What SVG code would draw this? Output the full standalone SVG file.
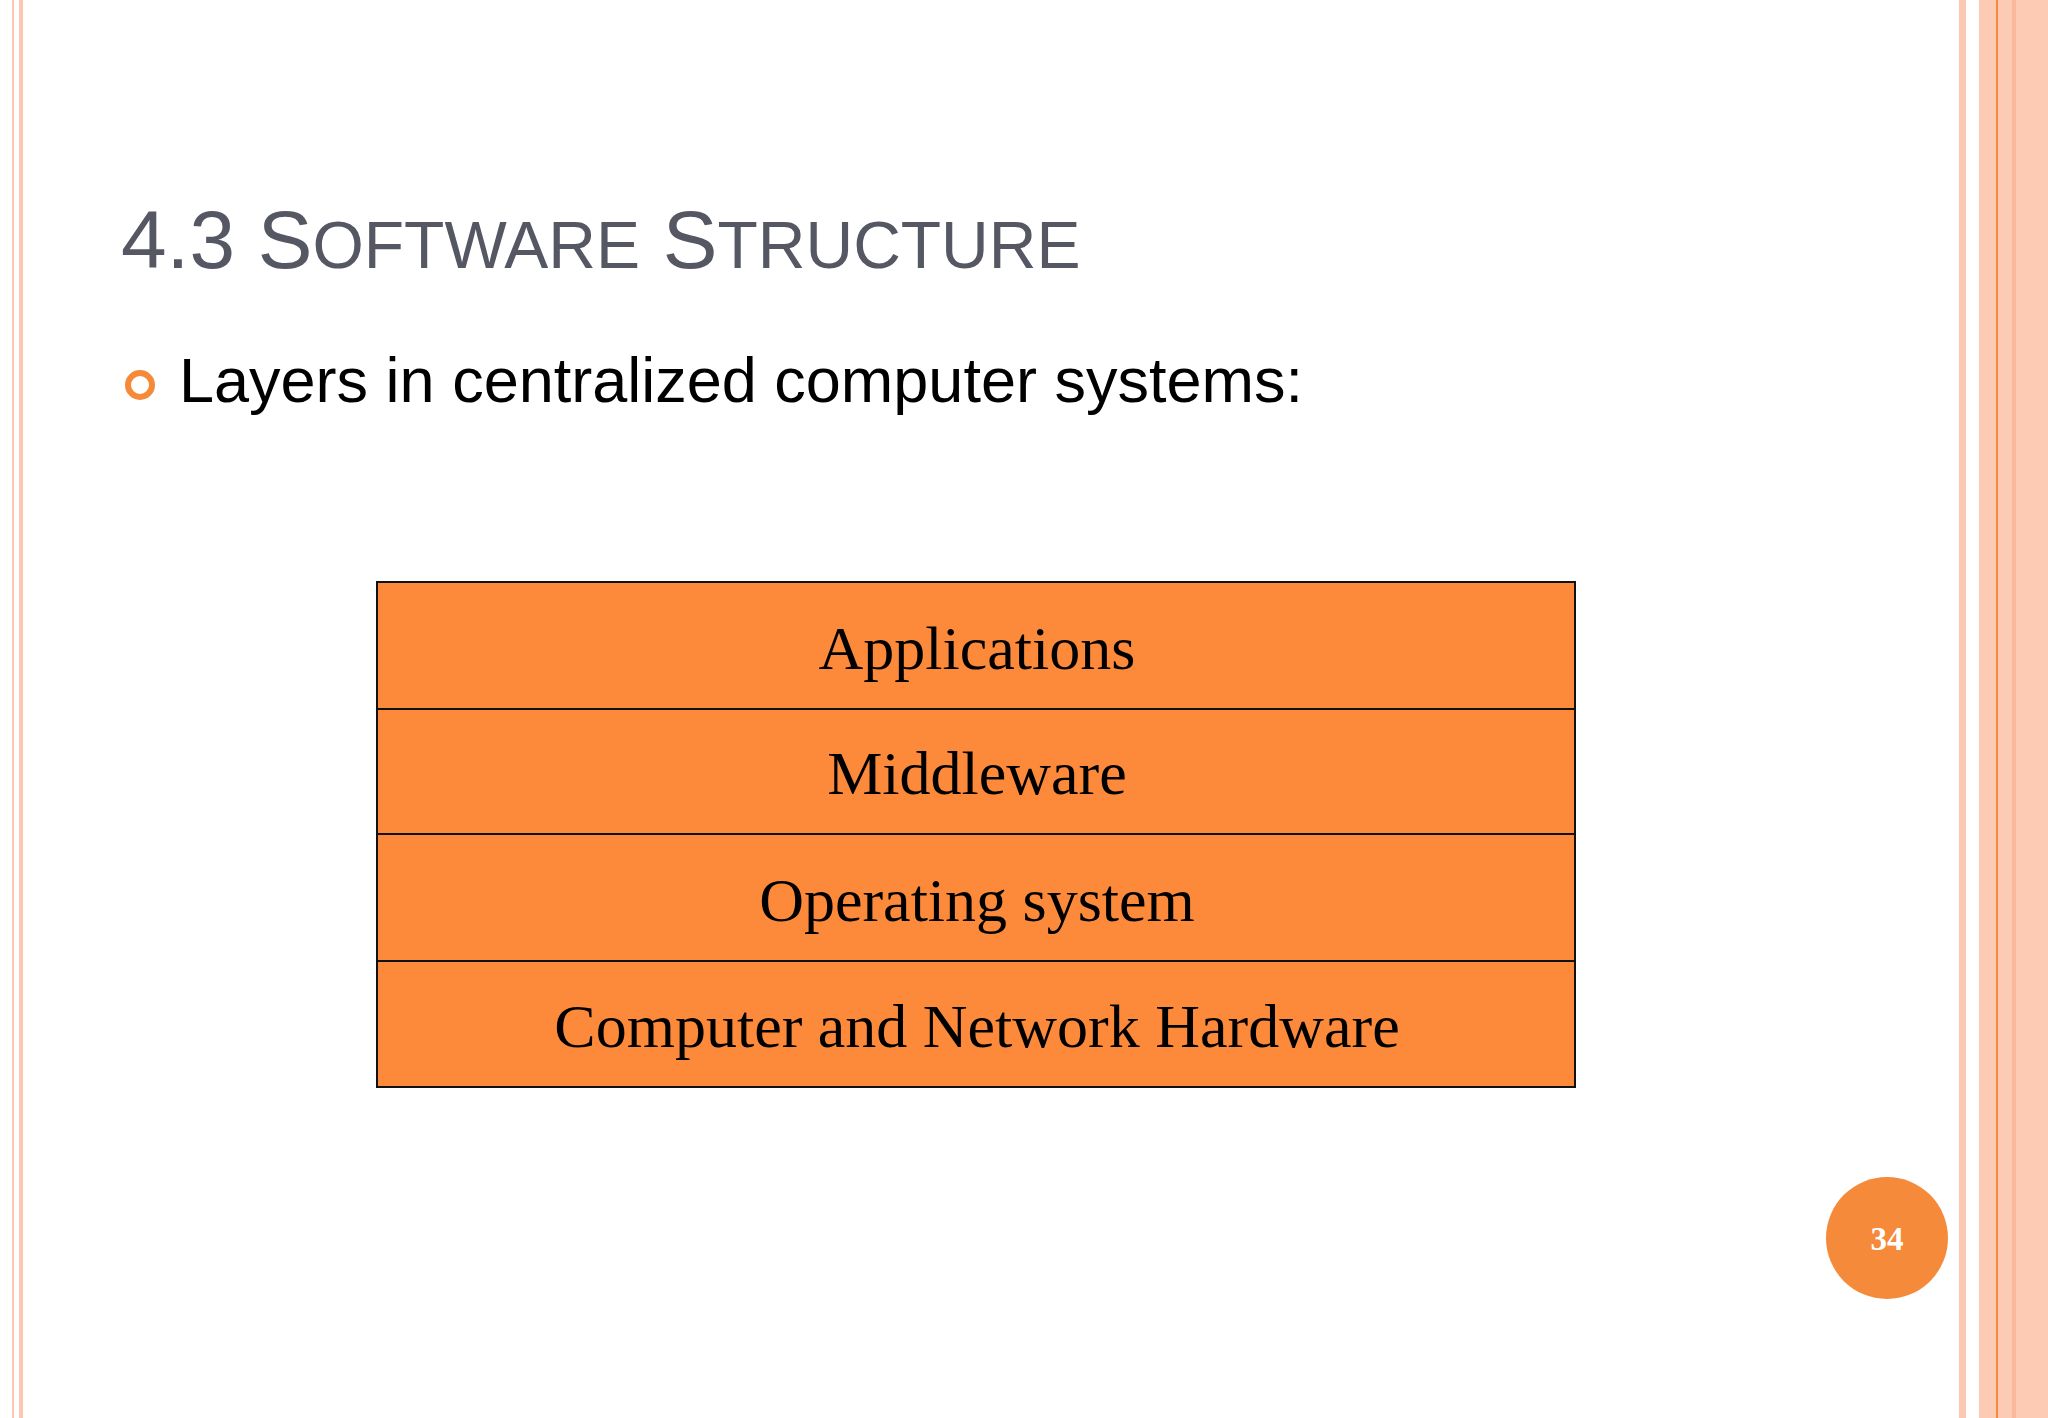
<svg xmlns="http://www.w3.org/2000/svg" width="2048" height="1418" viewBox="0 0 2048 1418">
<style>
.layer{fill:#FD8A3A;stroke:#111;stroke-width:2}
.lt{font-family:"Liberation Serif",serif;font-size:62px;fill:#000;text-anchor:middle}
.ti{font-family:"Liberation Sans",sans-serif;fill:#555863}
.sc{font-size:66px}
</style>
<rect width="2048" height="1418" fill="#fff"/>
<rect x="12" y="0" width="2" height="1418" fill="#fcc8b2"/>
<rect x="19" y="0" width="4" height="1418" fill="#fcc8b2"/>
<rect x="1959" y="0" width="7" height="1418" fill="#fcc8b2"/>
<rect x="1979" y="0" width="69" height="1418" fill="#fdcbb4"/>
<rect x="2012" y="0" width="4" height="1418" fill="#fbb89c"/>
<rect x="1996" y="0" width="2" height="1418" fill="#f58a40"/>
<text class="ti" x="121" y="268" font-size="82">4.3 S<tspan class="sc">OFTWARE</tspan> S<tspan class="sc">TRUCTURE</tspan></text>
<circle cx="140" cy="385" r="12" fill="none" stroke="#F58A3A" stroke-width="6"/>
<text x="179" y="402" font-family="Liberation Sans, sans-serif" font-size="63" fill="#000">Layers in centralized computer systems:</text>
<g id="applications"><rect class="layer" x="377" y="582" width="1198" height="127"/><text class="lt" x="977" y="669">Applications</text></g>
<g id="middleware"><rect class="layer" x="377" y="709" width="1198" height="125"/><text class="lt" x="977" y="794">Middleware</text></g>
<g id="os"><rect class="layer" x="377" y="834" width="1198" height="127"/><text class="lt" x="977" y="921">Operating system</text></g>
<g id="hardware"><rect class="layer" x="377" y="961" width="1198" height="126"/><text class="lt" x="977" y="1047">Computer and Network Hardware</text></g>
<g id="connectors"/>
<circle cx="1887" cy="1238" r="61" fill="#F58A3A"/>
<text x="1887" y="1250" font-family="Liberation Serif, serif" font-weight="bold" font-size="33" fill="#fff" text-anchor="middle">34</text>
</svg>
